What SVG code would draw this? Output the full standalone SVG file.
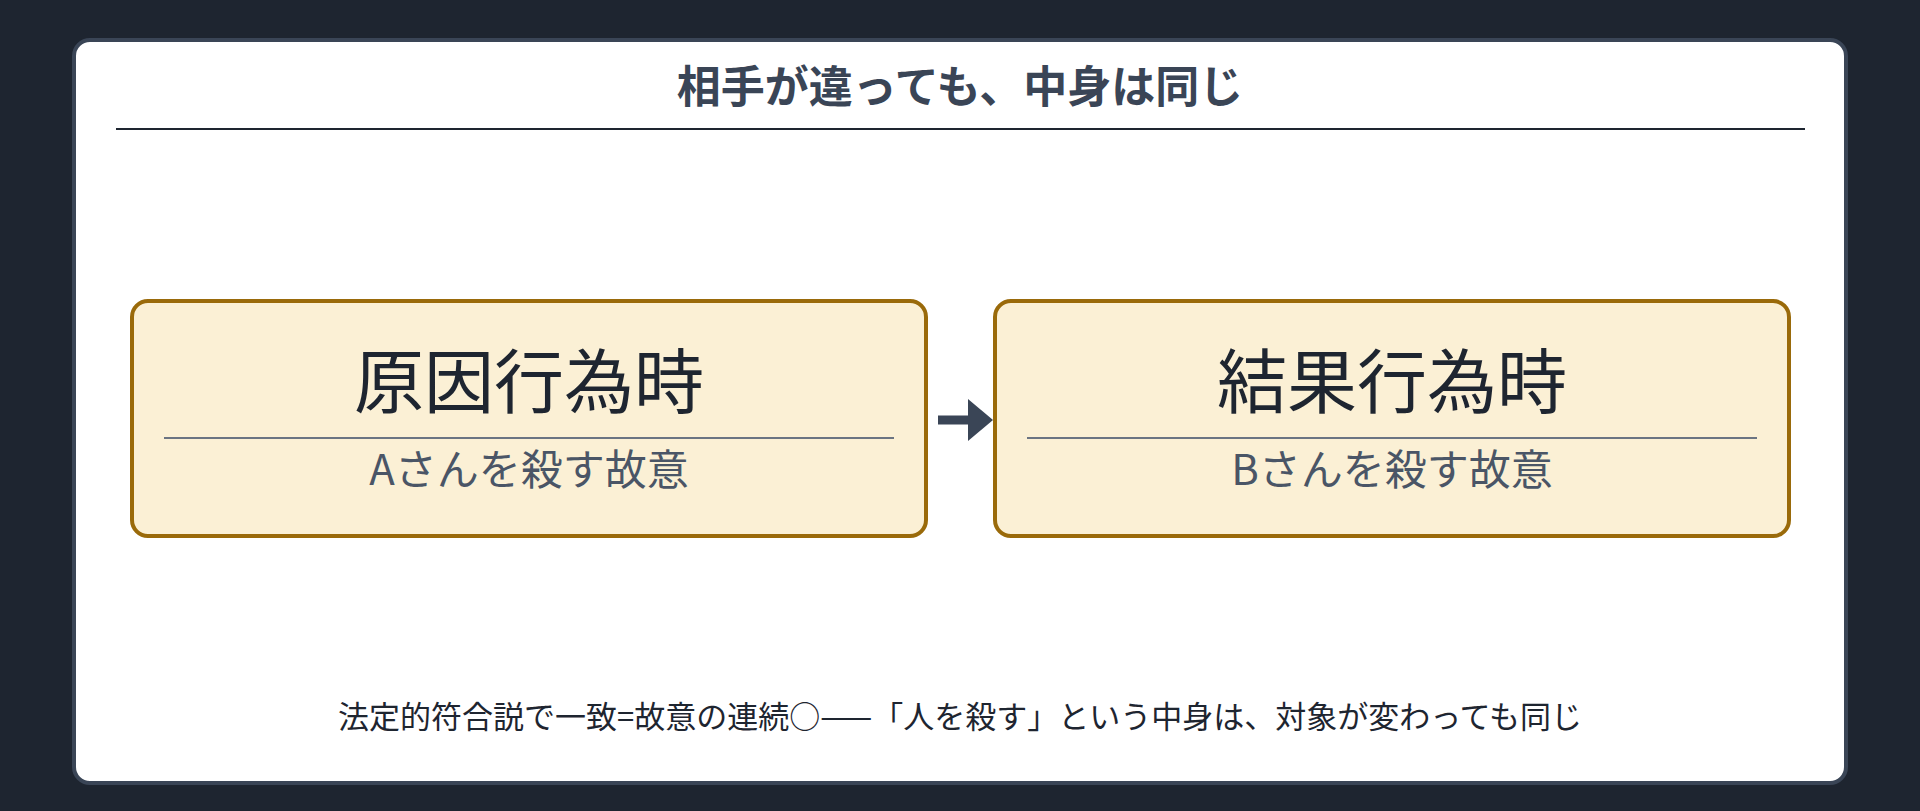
<svg xmlns="http://www.w3.org/2000/svg" width="1920" height="811" viewBox="0 0 1920 811">
<style>
text{font-family:"Noto Sans CJK JP","Noto Sans",sans-serif;text-anchor:middle}
.box{fill:#fbf0d5;stroke:#9a6a0a;stroke-width:4}
.h{font-size:70px;fill:#1e2530}
.s{font-size:42px;fill:#4a5566}
.sep{stroke:#6b7482;stroke-width:2}
</style>
<rect width="1920" height="811" fill="#1e2530"/>
<rect x="74" y="40" width="1772" height="743" rx="16" fill="#fff" stroke="#3a4556" stroke-width="4"/>
<text x="960" y="103" font-size="44" font-weight="bold" fill="#3a4556">相手が違っても、中身は同じ</text>
<line x1="116" y1="129" x2="1805" y2="129" stroke="#1e2530" stroke-width="2"/>
<g id="node1">
<rect class="box" x="132" y="301" width="794" height="235" rx="16"/>
<text class="h" x="529" y="408">原因行為時</text>
<line class="sep" x1="164" y1="438" x2="894" y2="438"/>
<text class="s" x="529" y="485">Aさんを殺す故意</text>
</g>
<g id="node2">
<rect class="box" x="995" y="301" width="794" height="235" rx="16"/>
<text class="h" x="1392" y="408">結果行為時</text>
<line class="sep" x1="1027" y1="438" x2="1757" y2="438"/>
<text class="s" x="1392" y="485">Bさんを殺す故意</text>
</g>
<g id="connectors">
<line x1="938" y1="420" x2="972" y2="420" stroke="#3a4556" stroke-width="9"/>
<polygon points="968,399 993,420 968,441" fill="#3a4556"/>
</g>
<text x="960" y="728" font-size="31" fill="#1e2530">法定的符合説で一致=故意の連続○——「人を殺す」という中身は、対象が変わっても同じ</text>
</svg>
